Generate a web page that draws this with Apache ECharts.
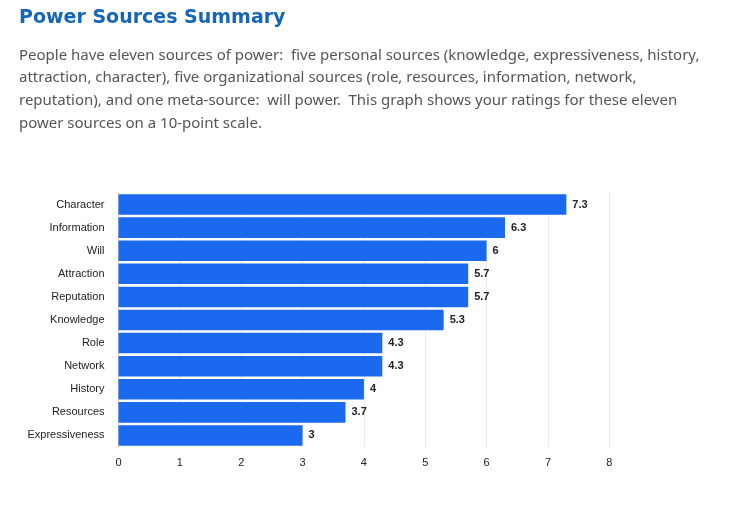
<!DOCTYPE html>
<html><head><meta charset="utf-8">
<script src="https://cdn.jsdelivr.net/npm/echarts@6/dist/echarts.min.js"></script>
<style>html,body{margin:0;padding:0;background:#fff}#c{width:745px;height:506px}</style>
</head><body><div id="c"></div>
<script>
const titleText = 'Power Sources Summary';
const paragraphLines = [
  'People have eleven sources of power:  five personal sources (knowledge, expressiveness, history,',
  'attraction, character), five organizational sources (role, resources, information, network,',
  'reputation), and one meta-source:  will power.  This graph shows your ratings for these eleven',
  'power sources on a 10-point scale.'
];
const categories = ['Character','Information','Will','Attraction','Reputation','Knowledge','Role','Network','History','Resources','Expressiveness'];
const values = [7.3, 6.3, 6, 5.7, 5.7, 5.3, 4.3, 4.3, 4, 3.7, 3];
const xTicks = [0,1,2,3,4,5,6,7,8];

const chart = echarts.init(document.getElementById('c'), null, {renderer:'canvas'});
const graphics = [{
  type:'text', left:19, top:9,
  style:{text:titleText, fill:'#1565b8', font:'bold 19px "DejaVu Sans"'}
}];
paragraphLines.forEach((t,i)=>{
  graphics.push({type:'text', left:19, top:48 + i*22.7,
    style:{text:t, fill:'#555555', font:'15px "Noto Sans"'}});
});
chart.setOption({
  animation:false,
  graphic: graphics,
  grid:{left:118.5, right:135.7, top:193, bottom:59, containLabel:false},
  xAxis:{type:'value', min:0, max:8, interval:1,
    axisLine:{show:false}, axisTick:{show:false},
    splitLine:{lineStyle:{color:'#ebebeb'}},
    axisLabel:{color:'#222', fontSize:11, fontFamily:'Arial, "Liberation Sans"', margin:10,
      formatter:v=>xTicks.includes(v)?String(v):''}
  },
  yAxis:{type:'category', data:categories, inverse:true,
    axisLine:{show:true, lineStyle:{color:'#cccccc'}}, axisTick:{show:false},
    axisLabel:{color:'#222', fontSize:11, fontFamily:'Arial, "Liberation Sans"', margin:14}
  },
  series:[{type:'bar', data:values, barCategoryGap:'11%',
    itemStyle:{color:'#1a69ee'},
    label:{show:true, position:'right', distance:6, color:'#222', fontWeight:'bold', fontSize:11, fontFamily:'Arial, "Liberation Sans"'}
  }]
});
</script></body></html>
